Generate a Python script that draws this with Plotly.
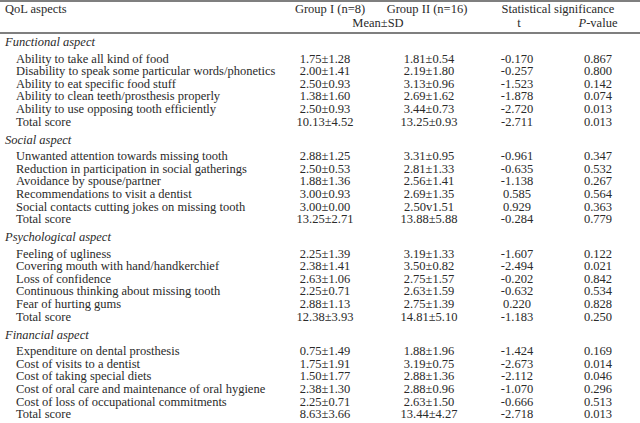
import plotly.graph_objects as go

# ---------------- data ----------------
header_top = ["QoL aspects", "Group I (n=8)", "Group II (n=16)", "Statistical significance"]
header_sub = ["Mean±SD", "t", "<i>P</i>-value"]

sections = ["Functional aspect", "Social aspect", "Psychological aspect", "Financial aspect"]

functional_items = ["Ability to take all kind of food",
                    "Disability to speak some particular words/phonetics",
                    "Ability to eat specific food stuff",
                    "Ability to clean teeth/prosthesis properly",
                    "Ability to use opposing tooth efficiently",
                    "Total score"]
functional_g1 = ["1.75±1.28", "2.00±1.41", "2.50±0.93", "1.38±1.60", "2.50±0.93", "10.13±4.52"]
functional_g2 = ["1.81±0.54", "2.19±1.80", "3.13±0.96", "2.69±1.62", "3.44±0.73", "13.25±0.93"]
functional_t = ["-0.170", "-0.257", "-1.523", "-1.878", "-2.720", "-2.711"]
functional_p = ["0.867", "0.800", "0.142", "0.074", "0.013", "0.013"]

social_items = ["Unwanted attention towards missing tooth",
                "Reduction in participation in social gatherings",
                "Avoidance by spouse/partner",
                "Recommendations to visit a dentist",
                "Social contacts cutting jokes on missing tooth",
                "Total score"]
social_g1 = ["2.88±1.25", "2.50±0.53", "1.88±1.36", "3.00±0.93", "3.00±0.00", "13.25±2.71"]
social_g2 = ["3.31±0.95", "2.81±1.33", "2.56±1.41", "2.69±1.35", "2.50v1.51", "13.88±5.88"]
social_t = ["-0.961", "-0.635", "-1.138", "0.585", "0.929", "-0.284"]
social_p = ["0.347", "0.532", "0.267", "0.564", "0.363", "0.779"]

psych_items = ["Feeling of ugliness",
               "Covering mouth with hand/handkerchief",
               "Loss of confidence",
               "Continuous thinking about missing tooth",
               "Fear of hurting gums",
               "Total score"]
psych_g1 = ["2.25±1.39", "2.38±1.41", "2.63±1.06", "2.25±0.71", "2.88±1.13", "12.38±3.93"]
psych_g2 = ["3.19±1.33", "3.50±0.82", "2.75±1.57", "2.63±1.59", "2.75±1.39", "14.81±5.10"]
psych_t = ["-1.607", "-2.494", "-0.202", "-0.632", "0.220", "-1.183"]
psych_p = ["0.122", "0.021", "0.842", "0.534", "0.828", "0.250"]

fin_items = ["Expenditure on dental prosthesis",
             "Cost of visits to a dentist",
             "Cost of taking special diets",
             "Cost of oral care and maintenance of oral hygiene",
             "Cost of loss of occupational commitments",
             "Total score"]
fin_g1 = ["0.75±1.49", "1.75±1.91", "1.50±1.77", "2.38±1.30", "2.25±0.71", "8.63±3.66"]
fin_g2 = ["1.88±1.96", "3.19±0.75", "2.88±1.36", "2.88±0.96", "2.63±1.50", "13.44±4.27"]
fin_t = ["-1.424", "-2.673", "-2.112", "-1.070", "-0.666", "-2.718"]
fin_p = ["0.169", "0.014", "0.046", "0.296", "0.513", "0.013"]

blocks = [
    (functional_items, functional_g1, functional_g2, functional_t, functional_p),
    (social_items, social_g1, social_g2, social_t, social_p),
    (psych_items, psych_g1, psych_g2, psych_t, psych_p),
    (fin_items, fin_g1, fin_g2, fin_t, fin_p),
]

# ---------------- layout constants ----------------
W, H = 640, 423
FONT = "Liberation Serif"
FS = 12.5
COLOR = "#2a2a2a"
X_HEAD = 5
X_ITEM = 16
X_G1 = 325
X_G2 = 429
X_T = 517
X_P = 598
Y_H1 = 10
Y_H2 = 24
HEAD_FIRST = 43
HEAD_TO_ITEM = 16.5
ITEM_PITCH = 12.6
TOTAL_TO_HEAD = 18

# compute row positions from the structure
lab_x, lab_y, lab_t = [], [], []
c_y, c_g1, c_g2, c_t, c_p = [], [], [], [], []
y = HEAD_FIRST
for sec, (items, g1, g2, tv, pv) in zip(sections, blocks):
    lab_x.append(X_HEAD); lab_y.append(y); lab_t.append("<i>" + sec + "</i>")
    y += HEAD_TO_ITEM
    for i, it in enumerate(items):
        lab_x.append(X_ITEM); lab_y.append(y); lab_t.append(it)
        c_y.append(y); c_g1.append(g1[i]); c_g2.append(g2[i]); c_t.append(tv[i]); c_p.append(pv[i])
        if i < len(items) - 1:
            y += ITEM_PITCH
    y += TOTAL_TO_HEAD

font = dict(family=FONT, size=FS, color=COLOR)
fig = go.Figure()

fig.add_trace(go.Scatter(x=lab_x + [X_HEAD], y=lab_y + [Y_H1], text=lab_t + [header_top[0]],
                         mode="text", textposition="middle right", textfont=font,
                         hoverinfo="skip", showlegend=False, cliponaxis=False))
for xc, vals in [(X_G1, c_g1), (X_G2, c_g2), (X_T, c_t), (X_P, c_p)]:
    fig.add_trace(go.Scatter(x=[xc] * len(vals), y=c_y, text=vals, mode="text",
                             textposition="middle center", textfont=font,
                             hoverinfo="skip", showlegend=False, cliponaxis=False))
fig.add_trace(go.Scatter(x=[330, 427, 558], y=[Y_H1] * 3, text=header_top[1:], mode="text",
                         textposition="middle center", textfont=font,
                         hoverinfo="skip", showlegend=False, cliponaxis=False))
fig.add_trace(go.Scatter(x=[378, 519, 598], y=[Y_H2] * 3, text=header_sub, mode="text",
                         textposition="middle center", textfont=font,
                         hoverinfo="skip", showlegend=False, cliponaxis=False))

# rules (top rule and header rule)
for yl in [1, 33]:
    fig.add_shape(type="line", xref="paper", x0=0, x1=1, yref="paper",
                  y0=1 - yl / H, y1=1 - yl / H,
                  line=dict(color="#555555", width=1.4), layer="above")

fig.update_xaxes(range=[0, W], visible=False, fixedrange=True)
fig.update_yaxes(range=[H, 0], visible=False, fixedrange=True)
fig.update_layout(width=W, height=H, margin=dict(l=0, r=0, t=0, b=0, pad=0),
                  paper_bgcolor="white", plot_bgcolor="white")
fig.write_html("out.html", config={"displayModeBar": False},
               post_script="document.body.style.margin='0';document.body.style.overflow='hidden';")
